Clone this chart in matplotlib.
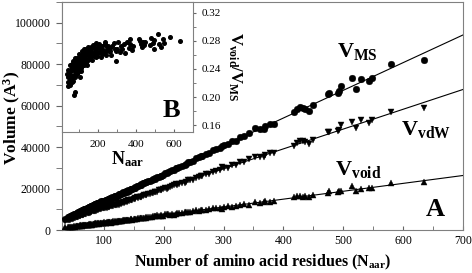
import numpy as np
import matplotlib
matplotlib.use('Agg')
import matplotlib.pyplot as plt
from matplotlib.ticker import MultipleLocator

plt.rcParams['font.family'] = ['Liberation Serif', 'DejaVu Serif']
plt.rcParams['mathtext.fontset'] = 'custom'
plt.rcParams['mathtext.rm'] = 'Liberation Serif'
plt.rcParams['mathtext.bf'] = 'Liberation Serif:bold'
plt.rcParams['mathtext.it'] = 'Liberation Serif:italic'

# --- data ---
n_aar = [36, 40, 42, 45, 48, 50, 53, 55, 56, 58, 60, 62, 63, 65, 67, 68, 70, 72, 74, 75,
         77, 79, 80, 82, 84, 85, 87, 89, 90, 92, 94, 96, 98, 100, 102, 104, 105, 107, 109, 110,
         112, 114, 116, 118, 120, 122, 124, 125, 127, 129, 130, 133, 135, 137, 139, 141, 143, 146, 148, 150,
         153, 155, 158, 160, 163, 165, 168, 171, 174, 177, 180, 183, 186, 189, 192, 196, 199, 203, 206, 210,
         214, 218, 222, 226, 230, 235, 240, 244, 249, 254, 259, 264, 270, 276, 282, 288, 294, 297, 300, 307,
         314, 321, 328, 335, 342, 353, 361, 368, 370, 378, 384, 418, 423, 428, 433, 436, 442, 449, 474, 477,
         491, 493, 496, 515, 522, 529, 543, 548, 579, 634,
         43, 47, 52, 57, 61, 64, 66, 69, 73, 76, 78, 83, 86, 91, 95, 99, 103, 108, 113, 119,
         126, 132, 138, 145, 152, 162, 170, 185, 195, 208, 220, 238, 262]

v_ms = [5500, 6300, 6200, 6900, 7100, 7700, 7800, 8300, 8000, 8700, 8900, 9400, 9100, 9700, 9900, 10300, 10200, 10700, 10800, 11300,
        11100, 11700, 11500, 12100, 12000, 12500, 12400, 12900, 13200, 13000, 13500, 13400, 13900, 14100, 14000, 14600, 14400, 14900, 14800, 15300,
        15200, 15800, 15600, 16200, 16100, 16500, 17000, 16800, 17300, 17200, 17700, 18000, 18300, 18700, 18500, 19200, 19000, 19700, 19600, 20300,
        20400, 21100, 21200, 21800, 21700, 22500, 22600, 23100, 23600, 23400, 24300, 24600, 24800, 25600, 25700, 26200, 26500, 27500, 27400, 28300,
        28800, 29000, 30100, 30200, 31000, 31300, 32600, 32900, 33300, 34600, 35000, 35500, 36700, 37000, 38500, 39000, 39400, 40500, 41000, 41500,
        42900, 43000, 44700, 45300, 46600, 49000, 48500, 48530, 50200, 50940, 51100, 56800, 58170, 59130, 59000, 58500, 57350, 60240, 65400, 65880,
        66170, 67150, 69400, 73100, 67950, 72600, 71950, 73400, 79850, 81900,
        6600, 7000, 7600, 8500, 9000, 9500, 9600, 10000, 10600, 11000, 11400, 12200, 12600, 13100, 13800, 14200, 14500, 15100, 15600, 16400,
        17200, 18200, 18800, 19900, 20800, 22100, 23000, 25300, 26100, 28100, 29700, 32000, 35700]

void_ratio = [0.233, 0.221, 0.228, 0.215, 0.235, 0.230, 0.224, 0.246, 0.231, 0.224, 0.239, 0.245, 0.230, 0.238, 0.223, 0.245, 0.251, 0.203, 0.231, 0.245,
              0.240, 0.256, 0.207, 0.246, 0.238, 0.252, 0.254, 0.241, 0.247, 0.233, 0.252, 0.247, 0.239, 0.261, 0.247, 0.228, 0.254, 0.259, 0.245, 0.252,
              0.237, 0.259, 0.265, 0.250, 0.245, 0.259, 0.254, 0.269, 0.245, 0.259, 0.251, 0.265, 0.268, 0.254, 0.261, 0.246, 0.266, 0.260, 0.253, 0.271,
              0.260, 0.254, 0.265, 0.269, 0.258, 0.264, 0.252, 0.270, 0.274, 0.263, 0.258, 0.269, 0.264, 0.277, 0.257, 0.268, 0.262, 0.272, 0.275, 0.264,
              0.269, 0.257, 0.272, 0.267, 0.262, 0.278, 0.266, 0.260, 0.271, 0.273, 0.265, 0.270, 0.260, 0.273, 0.277, 0.268, 0.265, 0.251, 0.269, 0.278,
              0.264, 0.273, 0.268, 0.276, 0.263, 0.278, 0.270, 0.276, 0.282, 0.267, 0.273, 0.283, 0.280, 0.276, 0.271, 0.278, 0.274, 0.279, 0.274, 0.284,
              0.277, 0.281, 0.268, 0.290, 0.276, 0.271, 0.283, 0.277, 0.286, 0.280,
              0.239, 0.222, 0.217, 0.239, 0.247, 0.221, 0.241, 0.228, 0.249, 0.238, 0.228, 0.249, 0.234, 0.256, 0.235, 0.252, 0.243, 0.257, 0.242, 0.263,
              0.248, 0.261, 0.249, 0.268, 0.255, 0.271, 0.260, 0.271, 0.259, 0.271, 0.261, 0.275, 0.266]

n_aar = np.array(n_aar)
v_ms = np.array(v_ms, dtype=float)
void_ratio = np.array(void_ratio)
v_void = v_ms * void_ratio
v_vdw = v_ms - v_void

fig = plt.figure(figsize=(4.72, 2.73), dpi=100)
ax = fig.add_axes([0.131, 0.1575, 0.850, 0.8355])

xfit = np.array([30, 700])
series = [(v_ms, 'o', 4.8), (v_vdw, 'v', 4.6), (v_void, '^', 3.8)]
for vals, mk, ms in series:
    ax.plot(n_aar, vals, mk, color='black', ms=ms, mec='black', mew=0.3, zorder=3)
    slope, icpt = np.polyfit(n_aar, vals, 1)
    ax.plot(xfit, slope * xfit + icpt, color='black', lw=0.8, zorder=2)

ax.set_xlim(30, 700)
ax.set_ylim(0, 110000)
ax.xaxis.set_major_locator(MultipleLocator(100))
ax.xaxis.set_minor_locator(MultipleLocator(50))
ax.yaxis.set_major_locator(MultipleLocator(20000))
ax.yaxis.set_minor_locator(MultipleLocator(10000))
ax.tick_params(axis='x', which='both', direction='in', labelsize=8.5, length=3, color='0.4')
ax.tick_params(axis='y', which='both', direction='out', labelsize=8.5, length=4, pad=4, color='0.4')
for sp in ax.spines.values():
    sp.set_color('0.5')
    sp.set_linewidth(0.8)

ax.set_xlabel(r'Number of amino acid residues (N$_{\mathbf{aar}}$)', fontsize=11.5,
              fontweight='bold', labelpad=4)
ax.set_ylabel(r'Volume (A$^{\mathbf{3}}$)', fontsize=12.5, fontweight='bold')
ax.yaxis.set_label_coords(-0.098, 0.49)

ax.text(490, 83400, r'$\mathbf{V}_{\mathbf{MS}}$', fontsize=16)
ax.text(596, 45800, r'$\mathbf{V}_{\mathbf{vdW}}$', fontsize=16)
ax.text(487, 26500, r'$\mathbf{V}_{\mathbf{void}}$', fontsize=16)
ax.text(0.955, 0.04, 'A', transform=ax.transAxes, fontsize=19, fontweight='bold',
        ha='right', va='bottom')

# inset B
ins = fig.add_axes([0.131, 0.516, 0.278, 0.476])
ins.set_facecolor('white')
ins.plot(n_aar, void_ratio, 'o', color='black', ms=2.6, zorder=3)
ins.set_xlim(10, 700)
ins.set_ylim(0.15, 0.335)
ins.xaxis.set_major_locator(MultipleLocator(200))
ins.xaxis.set_minor_locator(MultipleLocator(100))
ins.yaxis.set_major_locator(MultipleLocator(0.04))
ins.yaxis.set_minor_locator(MultipleLocator(0.02))
ins.yaxis.tick_right()
ins.yaxis.set_label_position('right')
ins.yaxis.set_major_formatter(plt.FormatStrFormatter('%.2f'))
ins.tick_params(axis='x', which='both', direction='in', labelsize=8, length=2.5, color='0.4', pad=6)
ins.tick_params(axis='y', which='both', direction='out', labelsize=8, length=2.5, color='0.4')
for sp in ins.spines.values():
    sp.set_color('0.5')
    sp.set_linewidth(0.8)
ins.set_xlabel(r'N$_{\mathbf{aar}}$', fontsize=13, fontweight='bold', labelpad=0)
ins.set_ylabel(r'V$_{\mathbf{void}}$/V$_{\mathbf{MS}}$', fontsize=12, fontweight='bold',
               rotation=270, labelpad=16)
ins.text(0.9, 0.08, 'B', transform=ins.transAxes, fontsize=19, fontweight='bold',
         ha='right', va='bottom')

fig.savefig('out.png', dpi=100)
